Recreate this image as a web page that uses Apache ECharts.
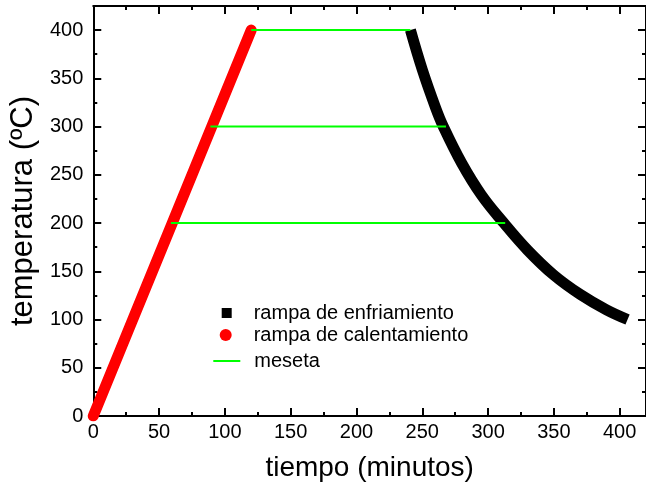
<!DOCTYPE html>
<html>
<head>
<meta charset="utf-8">
<script src="https://cdn.jsdelivr.net/npm/echarts@6/dist/echarts.min.js"></script>
<style>
  html, body { margin: 0; padding: 0; background: #fff; }
  #chart { width: 646px; height: 490px; }
</style>
</head>
<body>
<div id="chart"></div>
<script>
// rampa de calentamiento (tiempo, temperatura)
var heatTime = [0, 30, 60, 90, 120];
var heatTemp = [0, 100, 200, 300, 400];
// rampa de enfriamiento
var coolTime = [241, 250, 260, 266, 280, 295, 312, 330, 350, 370, 390, 406];
var coolTemp = [400, 359, 320, 300, 262, 229, 200, 172, 146, 126, 110, 100];
// mesetas
var plateauTemp = [400, 300, 200];
var plateauStart = [120, 89, 59];
var plateauEnd = [241, 268, 313];

var FONT = '"Liberation Sans", Arial, sans-serif';

function zip(xs, ys) {
  var out = [];
  for (var i = 0; i < xs.length; i++) out.push([xs[i], ys[i]]);
  return out;
}

var chart = echarts.init(document.getElementById('chart'));

function xAx(pos, interval, len, labels, line) {
  return {
    type: 'value', position: pos, min: 0, max: 420, interval: interval,
    axisLine: { show: line, onZero: false, lineStyle: { color: '#000', width: 2 } },
    axisTick: { show: true, inside: true, length: len, lineStyle: { color: '#000', width: 2 } },
    axisLabel: labels ? { show: true, color: '#000', fontSize: 20, fontFamily: FONT, margin: 6, showMaxLabel: false } : { show: false },
    splitLine: { show: false }
  };
}
function yAx(pos, interval, len, labels, line) {
  return {
    type: 'value', position: pos, min: 0, max: 425, interval: interval,
    axisLine: { show: line, onZero: false, lineStyle: { color: '#000', width: 2 } },
    axisTick: { show: true, inside: true, length: len, lineStyle: { color: '#000', width: 2 } },
    axisLabel: labels ? { show: true, color: '#000', fontSize: 20, fontFamily: FONT, margin: 10, showMaxLabel: false } : { show: false },
    splitLine: { show: false }
  };
}

var xAxes = [
  xAx('bottom', 50, 8, true, true),
  xAx('bottom', 25, 4, false, false),
  xAx('top', 50, 8, false, true),
  xAx('top', 25, 4, false, false)
];
xAxes[0].name = 'tiempo (minutos)';
xAxes[0].nameLocation = 'middle';
xAxes[0].nameGap = 38;
xAxes[0].nameTextStyle = { color: '#000', fontSize: 28, fontFamily: FONT };

var yAxes = [
  yAx('left', 50, 8, true, true),
  yAx('left', 25, 4, false, false),
  yAx('right', 50, 8, false, true),
  yAx('right', 25, 4, false, false)
];
yAxes[0].name = 'temperatura (ºC)';
yAxes[0].nameLocation = 'middle';
yAxes[0].nameGap = 46;
yAxes[0].nameTextStyle = { color: '#000', fontSize: 31, fontFamily: FONT };

var series = [
  {
    name: 'rampa de enfriamiento', type: 'line', data: zip(coolTime, coolTemp),
    showSymbol: false, symbol: 'none', smooth: 0.4, color: '#000',
    lineStyle: { color: '#000', width: 11 }
  },
  {
    name: 'rampa de calentamiento', type: 'line', data: zip(heatTime, heatTemp),
    showSymbol: false, symbol: 'none', color: '#ff0000',
    lineStyle: { color: '#ff0000', width: 11, cap: 'round' }
  }
];
for (var i = 0; i < plateauTemp.length; i++) {
  series.push({
    name: 'meseta', type: 'line', symbol: 'none', color: '#00ff00',
    data: [[plateauStart[i], plateauTemp[i]], [plateauEnd[i], plateauTemp[i]]],
    lineStyle: { color: '#00ff00', width: 2 }
  });
}

var legendText = { color: '#000', fontSize: 20, fontFamily: FONT };
function leg(name, icon, w, h, left, top, pad) {
  return {
    data: [name], icon: icon, itemWidth: w, itemHeight: h, left: left, top: top,
    padding: 0, selectedMode: false,
    textStyle: Object.assign({ padding: [0, 0, 0, pad] }, legendText)
  };
}

chart.setOption({
  animation: false,
  backgroundColor: '#fff',
  grid: { left: 93, right: -1, top: 6, bottom: 74 },
  legend: [
    leg('rampa de enfriamiento', 'rect', 10, 10, 221.7, 303, 17),
    leg('rampa de calentamiento', 'circle', 12, 12, 219.7, 325, 17),
    leg('meseta', 'rect', 27, 2, 213.3, 351, 9)
  ],
  xAxis: xAxes,
  yAxis: yAxes,
  series: series
});
</script>
</body>
</html>
